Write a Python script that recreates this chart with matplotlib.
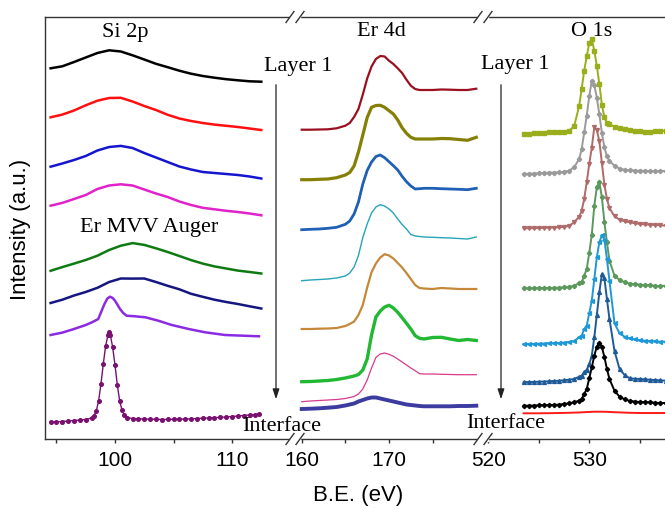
import numpy as np
import matplotlib
matplotlib.use('Agg')
import matplotlib.pyplot as plt
from matplotlib.lines import Line2D
from matplotlib.patches import FancyArrowPatch, Rectangle

# ---- Si 2p region (stacked spectra, offset intensities) ----
si_x = [94.5, 95.5, 96.5, 97.5, 98.5, 99.5, 100.5, 101.5, 102.5, 103.5,
        104.5, 105.5, 106.5, 107.5, 108.5, 109.5, 110.5, 111.5, 112.5]
si_black = [370.7, 372.7, 377, 381.5, 386, 388.7, 387.5, 383.7, 379.5, 375.2,
            371.8, 368.3, 365.3, 363, 361.3, 359.8, 358.7, 357.7, 357.3]
si_red = [321.7, 324.4, 328.5, 333.7, 338.3, 341, 341.2, 337.5, 333, 329,
          324.2, 320.5, 318, 316, 314.4, 313.2, 312, 310.5, 309]
si_blue = [272.3, 275.5, 279, 283, 288.5, 292, 293.1, 291, 286, 281.5,
           277, 272.5, 269.5, 267, 266, 265, 264, 262.5, 260.5]
si_magenta = [233.3, 236.1, 240, 244, 250, 253.5, 254.7, 253.5, 249.5, 245.5,
              242, 237.5, 234, 231.2, 229.7, 228.2, 227, 225.5, 223.7]
si_green = [168.2, 171.9, 175.4, 179, 183.3, 189, 193.3, 195.9, 194.1, 190.7,
            187, 183, 178.9, 175.4, 172.6, 170.5, 168.4, 167, 165.5]
si_navy = [136, 139.3, 143.5, 147, 151.2, 157, 160.5, 160.4, 160.5, 157,
           153.2, 149.7, 145.2, 142.2, 139.3, 137, 135, 132.7, 130.5]

si_violet_x = [94.5, 95.5, 96.5, 97.5, 98.0, 98.57, 98.85, 99.1, 99.35, 99.57,
               99.8, 100.0, 100.2, 100.43, 100.7, 101.0, 101.7, 102.6, 103.7,
               104.85, 106.3, 107.7, 109.4, 112.3]
si_violet = [104, 106.4, 110, 114, 116.5, 120, 128, 135, 140.5, 142.3,
             141, 138.3, 134.5, 130, 126, 123.3, 122.7, 121.7, 118.3,
             114, 110, 106.7, 104, 102.7]

si_purple_x = [94.5, 95.0, 95.5, 96.0, 96.5, 97.0, 97.5, 98.0, 98.2, 98.4,
               98.6, 98.8, 99.0, 99.2, 99.4, 99.5, 99.6, 99.8, 100.0, 100.2,
               100.4, 100.6, 100.8, 101.0, 101.5, 102.0, 102.5, 103.0, 103.5,
               104.0, 104.5, 105.0, 105.5, 106.0, 106.5, 107.0, 107.5, 108.0,
               108.5, 109.0, 109.5, 110.0, 110.5, 111.0, 111.5, 112.0, 112.3]
si_purple = [17, 17.2, 17.5, 18, 18.5, 19, 19.5, 21, 23, 28,
             38, 55, 75, 93, 104, 107, 104, 92, 74, 54,
             38, 29, 24, 21.5, 20.5, 20.2, 20, 19.8, 19.7,
             19.5, 19.6, 19.7, 19.8, 20, 20.2, 20.5, 20.7, 21,
             21.3, 21.7, 22, 22.5, 23, 23.5, 24, 24.5, 25]

# ---- Er 4d region ----
er_x = [160, 161, 162, 163, 164, 165, 165.5, 166, 166.5, 167, 167.5, 168,
        168.5, 169, 169.5, 170, 170.5, 171, 171.5, 172, 172.5, 173, 173.5,
        174, 175, 176, 177, 178, 179, 180]
er_darkred = [309.3, 309.3, 309.5, 309.7, 310.7, 313.3, 316, 322, 330, 344.5,
              360.5, 372.5, 380, 383, 382.5, 378.3, 375, 370.7, 366, 359.3,
              353.3, 350, 349, 349, 349, 349.5, 349.3, 349, 349, 350.3]
er_olive = [259.3, 259.3, 259.7, 260, 261.3, 264, 266.5, 273, 287, 304,
            321.5, 331.7, 333.5, 333.7, 331.7, 328.3, 325, 319, 311.3, 305.7,
            301.7, 300, 300, 300, 300, 300.5, 300.3, 299.5, 298.7, 301.7]
er_blue = [209.3, 209.7, 210, 210.7, 211.7, 214.7, 218, 225, 237, 255,
           268.5, 277, 282.5, 284, 281.3, 277.3, 273.3, 269, 262.7, 257.3,
           253, 250, 250.3, 250.7, 250.7, 250.3, 250, 249.7, 249.3, 250.7]
er_cyan = [158.3, 159, 159.5, 160, 161, 163, 166, 172, 183.5, 201.5,
           215, 226, 232, 234.3, 233, 230, 226, 220, 214.5, 210,
           204.5, 203, 202.5, 202, 201.7, 201.3, 201, 200.5, 200, 202]
er_tan = [110, 110, 110.3, 110.5, 111, 113, 115, 117.5, 124, 134,
          151.5, 166.7, 175.5, 181.5, 184.8, 183.5, 180.5, 176, 171.5, 166,
          160, 154, 151, 150.5, 150, 151, 150.5, 150, 150, 150]
er_green = [57.3, 57.5, 58, 58.5, 59.5, 61, 62, 63, 64.5, 69,
            80, 104, 122, 128, 132, 133.7, 131, 126.7, 121.3, 115.7,
            110, 103.3, 100.7, 100, 101.5, 101.7, 100, 98.5, 99.5, 98.5]
er_pink = [37.3, 38, 38.5, 39, 39.5, 40.5, 41.5, 42.5, 45, 50,
           59, 71, 81.5, 85, 86, 84.7, 82.7, 80, 77, 74,
           71, 68.3, 65.3, 65, 65, 64.7, 64.5, 64.3, 64.3, 64.3]
er_indigo = [30, 30.3, 30.7, 31.3, 32, 33.5, 34.5, 35.5, 37.5, 39,
             40.5, 41.5, 41.5, 40.5, 39.5, 38.5, 37.5, 36.5, 35.5, 34.5,
             34, 33.5, 33, 32.7, 32.7, 32.7, 32.7, 33, 33, 33.3]

# ---- O 1s region ----
o_x = [523.5, 524, 524.5, 525, 525.5, 526, 526.5, 527, 527.5, 528, 528.5,
       529, 529.25, 529.5, 529.75, 530, 530.25, 530.5, 530.75, 531, 531.25,
       531.5, 531.75, 532, 532.5, 533, 533.5, 534, 534.5, 535, 535.5, 536,
       536.5, 537, 537.6]
o_yellow = [305, 305.3, 305.7, 306, 306.3, 306.7, 306.8, 307, 307.5, 308.3, 312.7,
            333, 350, 368.3, 382.7, 396, 400, 388.3, 373.3, 355, 334.3,
            321.7, 316.3, 314.7, 312.3, 310.7, 309.7, 308.7, 308.2, 307.7, 307.5,
            307.3, 307.6, 308, 308.3]
o_gray = [265, 265.3, 265.5, 265.7, 266, 266.3, 266.5, 266.7, 267.3, 268.3, 271.7,
          280, 290, 306.7, 323.3, 342.7, 358.5, 354, 341.3, 324.7, 306,
          291.7, 282.7, 278, 273.3, 270.3, 269.3, 268.7, 268.5, 268.3, 268.2,
          268, 268, 268, 268]
o_rose = [210.7, 210.7, 210.8, 211, 211.2, 211.3, 211.5, 211.7, 212.2, 213, 216.7,
          222.3, 228.3, 240, 256.7, 275, 291.3, 312, 309, 297.7, 276,
          254.3, 240, 231, 222.7, 219.3, 217.7, 216.7, 215.8, 215, 214.6,
          214.3, 214, 213.7, 213.3]
o_green = [150.7, 150.7, 150.8, 151, 151, 151, 151.2, 151.3, 151.6, 152, 153.3,
           155.7, 156.7, 163.3, 170, 186, 204.3, 233.3, 251.7, 256.7, 241.7,
           216.7, 196.7, 178.3, 163.3, 159, 156.7, 155.3, 154.8, 154.3, 154,
           153.7, 153.3, 153, 153.3]
o_sky = [95, 95, 95.1, 95.3, 95.5, 95.7, 95.8, 96, 96.5, 97, 98,
         101.7, 103.3, 110, 113.3, 125.7, 138.3, 160, 181.7, 196.7, 204,
         199.3, 180, 158.3, 115.7, 105.7, 102.3, 100.7, 99.7, 98.7, 98.3,
         98, 97.7, 97.3, 97.3]
o_steel = [56.7, 57, 57.1, 57.3, 57.5, 57.7, 58, 58.3, 58.8, 59.3, 60,
           62.3, 63.3, 66.7, 69.3, 74.7, 83.3, 101.7, 124, 146.7, 165,
           160.7, 140, 120, 88, 70, 64, 60.7, 60.3, 60, 59.7,
           59.3, 59, 58.7, 58.3]
o_black = [33.3, 33.3, 33.5, 33.7, 33.8, 34, 34.2, 34.3, 35, 35.7, 36.7,
           38.3, 40, 45, 50, 60.7, 71.7, 83.3, 92.3, 96.3, 92,
           82, 70, 60, 48.3, 42.3, 39.7, 38, 37.5, 37, 36.8,
           36.7, 36.3, 36, 36]
o_red = [25.7, 25.7, 25.7, 25.7, 25.8, 25.8, 25.9, 26, 26.1, 26.2, 26.4,
         26.5, 26.7, 26.8, 27, 27, 27.2, 27.3, 27.3, 27.3, 27.3,
         27.2, 27.2, 27, 26.8, 26.6, 26.4, 26.2, 26.1, 26, 26,
         26, 26, 26, 26]

SERIF = 'Liberation Serif'
SANS = 'Liberation Sans'
SPINE = '#333333'

W, H = 665, 510
fig = plt.figure(figsize=(W / 100, H / 100), dpi=100)


def fx(px):
    return px / W


def fy(py):
    return 1 - py / H


top, bottom = 18, 440


def panel(x0, x1, xlim, major, minor):
    ax = fig.add_axes([fx(x0), fy(bottom), (x1 - x0) / W, (bottom - top) / H])
    ax.set_xlim(*xlim)
    ax.set_ylim(0, bottom - top)
    ax.set_xticks(major)
    ax.set_xticks(minor, minor=True)
    ax.set_yticks([])
    ax.tick_params(axis='x', which='both', direction='out', length=3,
                   width=1.0, color=SPINE, pad=5, labelsize=15)
    for lab in ax.get_xticklabels():
        lab.set_fontfamily(SANS)
    for side in ('left', 'right', 'top', 'bottom'):
        ax.spines[side].set_visible(False)
    for side in ('top', 'bottom'):
        ax.spines[side].set_visible(True)
        ax.spines[side].set_color(SPINE)
        ax.spines[side].set_linewidth(1.0)
    return ax


ax_si = panel(45, 295, (94.02, 115.38), [100, 110], [95, 105])
ax_er = panel(295, 483, (159.23, 180.77), [160, 170], [165, 175])
ax_o = panel(483, 665, (519.48, 537.5), [520, 530], [525, 535])
ax_si.spines['left'].set_visible(True)
ax_si.spines['left'].set_color(SPINE)
ax_si.spines['left'].set_linewidth(1.0)

# Si 2p
ax_si.plot(si_x, si_black, color='#000000', lw=1.8)
ax_si.plot(si_x, si_red, color='#ff1010', lw=1.8)
ax_si.plot(si_x, si_blue, color='#1515d0', lw=1.8)
ax_si.plot(si_x, si_magenta, color='#e022c8', lw=1.8)
ax_si.plot(si_x, si_green, color='#0f7a12', lw=1.8)
ax_si.plot(si_x, si_navy, color='#161680', lw=1.8)
ax_si.plot(si_violet_x, si_violet, color='#8a2be2', lw=1.8)
ax_si.plot(si_purple_x, si_purple, color='#7a1070', lw=1.0,
           marker='o', ms=2.6)

# Er 4d
ax_er.plot(er_x, er_darkred, color='#9a1020', lw=1.6)
ax_er.plot(er_x, er_olive, color='#858005', lw=2.3)
ax_er.plot(er_x, er_blue, color='#1f5fb4', lw=2.0)
ax_er.plot(er_x, er_cyan, color='#27a4b8', lw=1.0)
ax_er.plot(er_x, er_tan, color='#c48838', lw=1.6)
ax_er.plot(er_x, er_green, color='#22b833', lw=2.4)
ax_er.plot(er_x, er_pink, color='#d83a8c', lw=0.9)
ax_er.plot(er_x, er_indigo, color='#3c3ca0', lw=2.8)

# O 1s
ax_o.plot(o_x, o_yellow, color='#9aae1c', lw=1.4, marker='s', ms=2.4)
ax_o.plot(o_x, o_gray, color='#9a9a9a', lw=1.4, marker='P', ms=2.8)
ax_o.plot(o_x, o_rose, color='#b06a6a', lw=1.4, marker='v', ms=2.8)
ax_o.plot(o_x, o_green, color='#5c985c', lw=1.4, marker='P', ms=2.8)
ax_o.plot(o_x, o_sky, color='#1f98d8', lw=1.4, marker='<', ms=2.8)
ax_o.plot(o_x, o_steel, color='#1f5a98', lw=1.4, marker='^', ms=2.8)
ax_o.plot(o_x, o_black, color='#000000', lw=1.4, marker='D', ms=2.2)
ax_o.plot(o_x, o_red, color='#ff1a1a', lw=1.4)

# axis breaks: white gap between two slanted strokes
for cx in (295, 483):
    for yy in (top, bottom):
        fig.add_artist(Rectangle((fx(cx - 5), fy(yy + 2)), 10 / W, 4 / H,
                                 transform=fig.transFigure, color='white',
                                 zorder=5))
        for dx in (-5, 5):
            fig.add_artist(Line2D([fx(cx + dx - 4), fx(cx + dx + 4)],
                                  [fy(yy + 5.5), fy(yy - 5.5)],
                                  transform=fig.transFigure, color=SPINE,
                                  lw=1.0, zorder=6))

# depth arrows
for ax_px in (276, 501):
    fig.add_artist(FancyArrowPatch((fx(ax_px), fy(83)), (fx(ax_px), fy(403)),
                                   transform=fig.transFigure,
                                   arrowstyle='-|>,head_length=0.6,head_width=0.2',
                                   mutation_scale=10, lw=0.9, color='#222222'))

fig.text(fx(125), fy(32), 'Si 2p', family=SERIF, fontsize=16, ha='center', va='center')
fig.text(fx(381), fy(32), 'Er 4d', family=SERIF, fontsize=16, ha='center', va='center')
fig.text(fx(592), fy(31), 'O 1s', family=SERIF, fontsize=16, ha='center', va='center')
fig.text(fx(149), fy(228), 'Er MVV Auger', family=SERIF, fontsize=16,
         ha='center', va='center')
fig.text(fx(264), fy(67), 'Layer 1', family=SERIF, fontsize=16, ha='left', va='center')
fig.text(fx(481), fy(65), 'Layer 1', family=SERIF, fontsize=16, ha='left', va='center')
fig.text(fx(242), fy(427), 'Interface', family=SERIF, fontsize=16,
         ha='left', va='center', zorder=7)
fig.text(fx(466), fy(423), 'Interface', family=SERIF, fontsize=16,
         ha='left', va='center', zorder=7)

fig.text(fx(21), fy(229), 'Intensity (a.u.)', family=SANS, fontsize=16,
         rotation=90, ha='center', va='center')
fig.text(fx(358), fy(496), 'B.E. (eV)', family=SANS, fontsize=16,
         ha='center', va='center')

fig.savefig('out.png', dpi=100)
